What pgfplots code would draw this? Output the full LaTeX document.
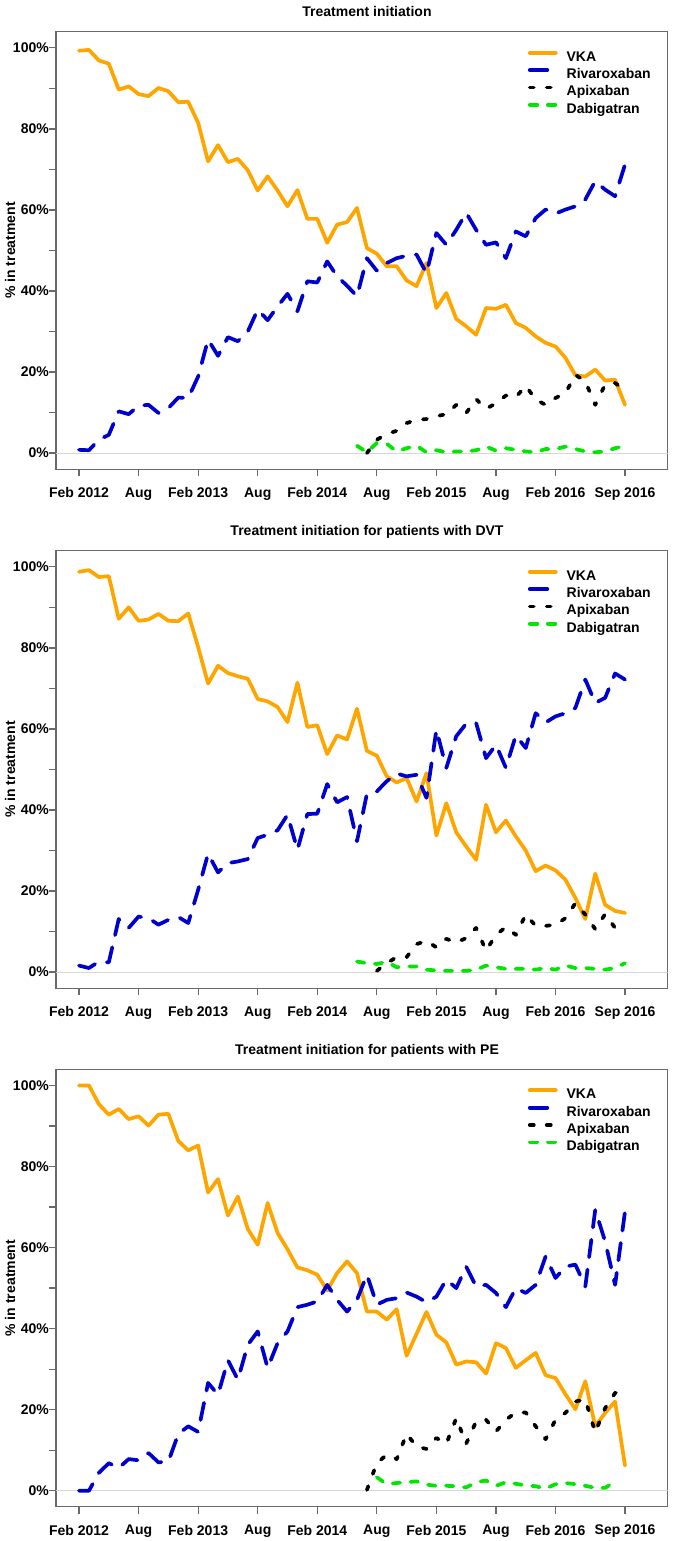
\documentclass[border=0pt]{standalone}
\usepackage{fontspec}
\setmainfont{Liberation Sans}
\usepackage{pgfplots}
\pgfplotsset{compat=1.18}
\usepackage{pgfplotstable}

\definecolor{vka}{RGB}{255,165,0}
\definecolor{riva}{RGB}{0,0,205}
\definecolor{dabi}{RGB}{0,230,0}
\definecolor{boxgray}{RGB}{105,105,105}
\definecolor{zerogray}{RGB}{215,215,215}

\pgfplotstableread{
m vka riva apix dabi
0 99.3 0.8 nan nan
1 99.5 0.7 nan nan
2 96.9 3.3 nan nan
3 96.1 4.5 nan nan
4 89.7 10.3 nan nan
5 90.5 9.6 nan nan
6 88.6 11.7 nan nan
7 88.1 11.9 nan nan
8 90.1 9.9 nan nan
9 89.3 11.1 nan nan
10 86.6 13.7 nan nan
11 86.7 13.6 nan nan
12 81.5 18.9 nan nan
13 72.0 28.0 nan nan
14 76.0 24.0 nan nan
15 71.8 28.6 nan nan
16 72.6 27.6 nan nan
17 69.8 30.0 nan nan
18 64.8 35.4 nan nan
19 68.3 32.8 nan nan
20 64.8 36.2 nan nan
21 60.9 39.3 nan nan
22 64.9 35.0 nan nan
23 57.8 42.4 nan nan
24 57.8 42.1 nan nan
25 51.9 47.3 nan nan
26 56.4 43.6 nan nan
27 57.0 41.3 nan nan
28 60.5 38.7 nan 1.8
29 50.6 48.1 0.0 0.2
30 49.2 45.0 3.3 2.5
31 46.1 46.9 4.7 2.3
32 46.1 48.1 5.5 0.4
33 42.6 48.7 7.4 1.2
34 41.2 49.0 8.2 1.8
35 46.9 44.4 8.4 0.2
36 35.8 54.3 9.1 0.7
37 39.5 51.4 9.6 0.2
38 33.1 55.1 11.9 0.4
39 31.3 59.3 9.9 0.4
40 29.2 55.1 13.3 0.7
41 35.8 51.4 10.9 1.6
42 35.6 52.0 12.3 0.6
43 36.6 48.1 14.2 1.2
44 32.1 54.7 13.8 0.8
45 30.9 53.5 16.6 0.4
46 28.8 58.0 13.2 0.2
47 27.2 60.1 11.9 1.0
48 26.3 59.1 13.6 1.0
49 23.5 60.1 14.8 1.6
50 19.2 60.9 19.3 1.0
51 18.9 62.6 17.7 0.4
52 20.6 67.1 11.9 0.2
53 17.9 65.0 16.9 0.4
54 18.1 63.4 17.3 1.2
55 11.9 71.2 15.5 1.8
}\dataall

\pgfplotstableread{
m vka riva apix dabi
0 98.8 1.6 nan nan
1 99.2 1.0 nan nan
2 97.5 2.6 nan nan
3 97.7 2.4 nan nan
4 87.2 13.1 nan nan
5 90.0 10.9 nan nan
6 86.7 13.7 nan nan
7 87.0 13.3 nan nan
8 88.4 11.7 nan nan
9 86.7 12.9 nan nan
10 86.6 13.6 nan nan
11 88.5 12.1 nan nan
12 80.2 20.3 nan nan
13 71.2 29.2 nan nan
14 75.6 24.6 nan nan
15 73.8 26.9 nan nan
16 73.0 27.3 nan nan
17 72.4 27.9 nan nan
18 67.4 33.1 nan nan
19 66.8 33.9 nan nan
20 65.4 35.0 nan nan
21 61.7 38.8 nan nan
22 71.4 30.2 nan nan
23 60.5 39.0 nan nan
24 60.9 39.1 nan nan
25 53.8 46.4 nan nan
26 58.4 41.9 nan nan
27 57.4 43.2 nan nan
28 65.0 32.3 nan 2.6
29 54.6 44.0 nan 2.2
30 53.4 44.6 0.3 2.0
31 48.3 47.1 2.2 2.5
32 46.8 49.0 3.7 1.2
33 47.9 48.3 3.7 1.4
34 42.1 48.7 6.9 1.4
35 49.1 43.0 7.7 0.6
36 33.7 59.8 6.1 0.4
37 41.7 50.4 8.2 0.3
38 34.5 58.2 7.3 0.3
39 31.0 61.3 8.4 0.3
40 27.7 61.5 10.9 0.6
41 41.3 52.8 5.3 1.6
42 34.5 56.1 9.2 1.2
43 37.4 50.4 11.1 0.8
44 33.5 58.4 9.2 0.8
45 30.0 55.3 14.2 0.8
46 24.9 63.9 11.4 0.6
47 26.3 61.6 11.4 1.0
48 25.1 63.1 11.7 0.6
49 22.8 63.9 13.3 1.6
50 18.3 65.2 17.0 1.0
51 13.1 72.2 14.2 1.0
52 24.3 66.4 10.6 0.8
53 16.6 67.7 14.3 0.6
54 15.1 73.7 10.9 1.0
55 14.6 72.2 10.7 2.2
}\datadvt

\pgfplotstableread{
m vka riva apix dabi
0 100.0 0.0 nan nan
1 100.0 0.0 nan nan
2 95.4 4.4 nan nan
3 92.8 6.8 nan nan
4 94.2 5.6 nan nan
5 91.7 7.8 nan nan
6 92.4 7.5 nan nan
7 90.1 9.3 nan nan
8 92.8 7.0 nan nan
9 93.0 7.2 nan nan
10 86.3 14.0 nan nan
11 84.0 15.9 nan nan
12 85.2 14.5 nan nan
13 73.6 26.6 nan nan
14 76.9 23.7 nan nan
15 67.9 32.2 nan nan
16 72.6 27.4 nan nan
17 64.6 36.0 nan nan
18 60.7 39.3 nan nan
19 71.0 30.3 nan nan
20 63.6 36.4 nan nan
21 59.6 39.3 nan nan
22 55.1 45.3 nan nan
23 54.4 45.9 nan nan
24 53.3 46.7 nan nan
25 49.4 50.8 nan nan
26 53.7 47.1 nan nan
27 56.6 44.2 nan nan
28 53.7 47.1 nan nan
29 44.2 53.3 0.2 nan
30 44.2 45.9 6.8 3.3
31 42.2 47.1 8.9 1.6
32 44.8 47.5 7.8 1.9
33 33.3 48.9 14.0 2.1
34 38.7 47.9 10.9 2.3
35 44.1 46.5 10.3 1.5
36 38.5 47.9 13.0 1.2
37 36.6 52.1 11.6 1.2
38 31.1 50.0 17.9 1.1
39 31.9 55.3 11.6 0.8
40 31.7 50.4 17.1 2.1
41 28.9 50.8 17.5 2.5
42 36.4 48.8 14.6 1.2
43 35.2 45.3 17.5 2.1
44 30.3 50.0 19.3 1.7
45 32.2 48.8 19.3 1.3
46 34.0 50.8 15.9 1.1
47 28.5 57.8 12.7 0.5
48 27.8 52.5 17.5 1.6
49 23.8 55.3 19.2 1.9
50 20.1 55.8 22.0 1.6
51 27.0 50.4 22.5 1.2
52 15.9 69.3 14.4 0.7
53 19.2 61.5 20.4 0.7
54 22.0 50.8 24.1 2.3
55 6.2 68.9 24.9 nan
}\datape

\newcommand{\bigbf}{\fontsize{14}{16}\selectfont\bfseries}

\pgfplotsset{
  panel/.style={
    scale only axis, width=611.7pt, height=437.6pt,
    xmin=-2.32, xmax=59.3, ymin=-4, ymax=104,
    axis line style={boxgray, line width=1.2pt},
    tick style={boxgray, line width=1.2pt},
    tick align=outside, major tick length=7pt, minor tick length=7pt,
    xtick pos=left, ytick pos=left,
    xtick={0,6,12,18,24,30,36,42,48,55},
    xticklabels={Feb 2012,Aug,Feb 2013,Aug,Feb 2014,Aug,Feb 2015,Aug,Feb 2016,Sep 2016},
    ytick={0,20,40,60,80,100},
    yticklabels={0\%,20\%,40\%,60\%,80\%,100\%},
    minor ytick={10,30,50,70,90},
    ticklabel style={font=\bigbf, text=black},
    yticklabel style={anchor=east, inner sep=0pt},
    xticklabel style={anchor=north, inner sep=0pt, yshift=-11pt},
    ylabel={\% in treatment},
    ylabel style={font=\bigbf, at={(axis description cs:-0.0752,0.5)}, anchor=center},
    title style={font=\bigbf, at={(axis description cs:0.5084,1)}, anchor=base, yshift=9pt},
    legend style={draw=none, fill=none, font=\bigbf, at={(0.7712,0.9566)}, anchor=north west,
      inner sep=0pt, row sep=7pt, nodes={inner sep=0pt, text height=10pt, text depth=0pt},
      /tikz/every odd column/.append style={column sep=9pt}},
    legend cell align=left,
    legend image code/.code={\draw[##1] (0pt,3.5pt) -- (26pt,3.5pt);},
    unbounded coords=jump,
    every axis plot/.append style={line width=3.7pt, line cap=round, line join=round},
  },
  vkast/.style={vka},
  rivast/.style={riva, dash pattern=on 17.5pt off 12.5pt},
  apixst/.style={black, dash pattern=on 4pt off 13pt},
  dabist/.style={dabi, dash pattern=on 7.5pt off 10.5pt},
}

\newcommand{\panelplots}[1]{%
  \addplot[zerogray, line width=1pt, forget plot] coordinates {(-2.32,0) (59.3,0)};
  \addplot[vkast] table[x=m,y=vka]{#1};
  \addplot[rivast] table[x=m,y=riva]{#1};
  \addplot[apixst] table[x=m,y=apix]{#1};
  \addplot[dabist] table[x=m,y=dabi]{#1};
  \legend{VKA,Rivaroxaban,Apixaban,Dabigatran}
}

\begin{document}
\begin{tikzpicture}
\useasboundingbox (0,0) rectangle (675pt,1541pt);
\begin{axis}[panel, at={(56pt,1509.3pt)}, anchor=north west, title={Treatment initiation}]
\panelplots{\dataall}
\end{axis}
\begin{axis}[panel, at={(56pt,990.3pt)}, anchor=north west, title={Treatment initiation for patients with DVT}]
\panelplots{\datadvt}
\end{axis}
\begin{axis}[panel, at={(56pt,471.7pt)}, anchor=north west, title={Treatment initiation for patients with PE}]
\panelplots{\datape}
\end{axis}
\end{tikzpicture}
\end{document}
